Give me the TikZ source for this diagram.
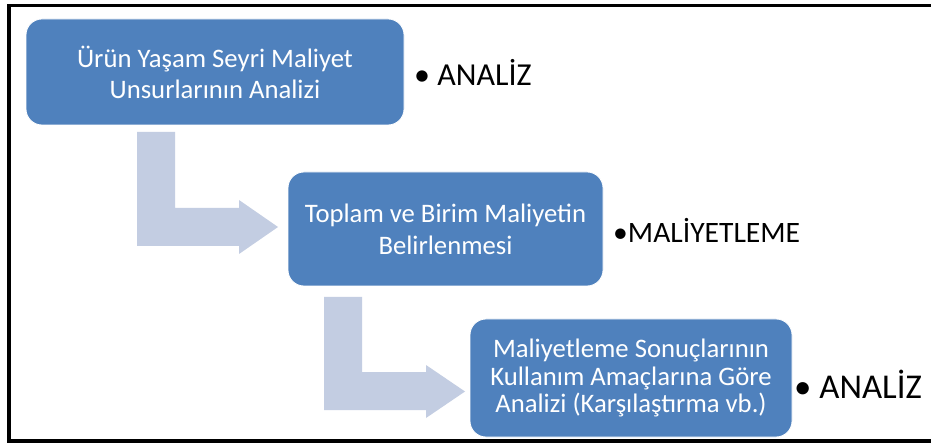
\documentclass[tikz,border=0pt]{standalone}
\usepackage{fontspec}
\setmainfont{Carlito}
\definecolor{kutumavi}{RGB}{79,129,189}
\definecolor{okmavi}{RGB}{195,205,226}
\begin{document}
\begin{tikzpicture}[x=1pt, y=-1pt,
	kutu/.style={rectangle, rounded corners=16pt, fill=kutumavi, draw=white, line width=0.8pt, text=white, align=center, inner sep=0pt},
	ok/.style={fill=okmavi, draw=none},
	etiket/.style={anchor=west, inner sep=0pt, text=black}]
	\useasboundingbox (0,0) rectangle (931,443);
	\fill[white] (0,0) rectangle (931,443);
	\draw[line width=3.5pt] (935,5.5) -- (9,5.5) -- (9,441) -- (935,441);

	\node[kutu, minimum width=378pt, minimum height=106pt, font=\fontsize{26.7}{31}\selectfont] (k1) at (215,72) {Ürün Yaşam Seyri Maliyet\\Unsurlarının Analizi};
	\node[kutu, minimum width=315pt, minimum height=114pt, font=\fontsize{26.7}{32}\selectfont] (k2) at (445.5,229) {Toplam ve Birim Maliyetin\\Belirlenmesi};
	\node[kutu, minimum width=322pt, minimum height=118pt, font=\fontsize{26.7}{27.5}\selectfont] (k3) at (631,378) {Maliyetleme Sonuçlarının\\Kullanım Amaçlarına Göre\\Analizi (Karşılaştırma vb.)};

	\fill[ok] (137,132) -- (175,132) -- (175,208) -- (239,208) -- (239,200) -- (278,227) -- (239,254) -- (239,246) -- (137,246) -- cycle;
	\fill[ok] (324,297) -- (362,297) -- (362,372) -- (426,372) -- (426,365) -- (465,391.5) -- (426,418) -- (426,410) -- (324,410) -- cycle;

	\node[etiket, font=\fontsize{32}{38}\selectfont] (e1) at (414,72) {• ANALİZ};
	\node[etiket, font=\fontsize{29.6}{35}\selectfont] (e2) at (613,230) {•MALİYETLEME};
	\node[etiket, font=\fontsize{34.8}{42}\selectfont] (e3) at (794,384) {• ANALİZ};
\end{tikzpicture}
\end{document}
